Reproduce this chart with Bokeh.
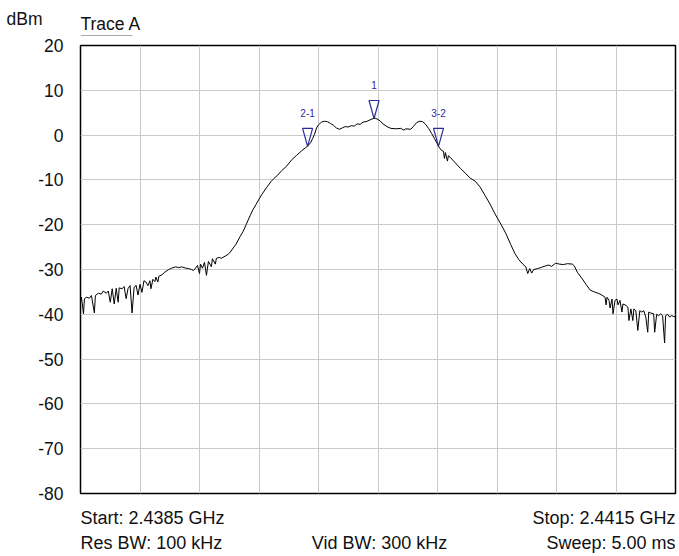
from bokeh.plotting import figure
from bokeh.layouts import column
from bokeh.models import Range1d, FixedTicker, Label
from bokeh.core.properties import value
from bokeh.embed import file_html
from bokeh.resources import INLINE

# ---------------- data ----------------
start_ghz = 2.4385
stop_ghz = 2.4415
n_sweep = 600          # sweep points across the span
x_divisions = 10

y_ticks = [20, 10, 0, -10, -20, -30, -40, -50, -60, -70, -80]
y_tick_labels = ["20", "10", "0", "-10", "-20", "-30", "-40", "-50", "-60", "-70", "-80"]

# Trace A: sweep point index and level (dBm)
sweep_pts = [
    0, 1, 3, 4, 6, 9, 11, 14, 15, 18, 21, 23, 26, 28, 30, 32, 34, 36, 38, 39,
    42, 44, 46, 48, 50, 52, 54, 56, 58, 60, 62, 64, 66, 68, 70, 71, 73, 75, 76, 78,
    79, 82, 85, 89, 92, 96, 99, 102, 106, 109, 112, 114, 116, 118, 120, 121, 123, 125, 127, 129,
    132, 133, 136, 137, 140, 142, 146, 149, 151, 154, 157, 161, 164, 167, 171, 174, 177, 180, 183, 188,
    192, 195, 199, 203, 208, 213, 218, 223, 227, 229, 232, 234, 236, 238, 240, 243, 246, 249, 252, 255,
    258, 261, 264, 267, 270, 273, 276, 279, 282, 285, 288, 291, 294, 297, 299, 302, 305, 309, 313, 318,
    323, 326, 328, 333, 336, 339, 342, 345, 348, 351, 354, 357, 360, 361, 364, 366, 367, 368, 370, 371,
    373, 378, 383, 388, 393, 398, 403, 408, 413, 418, 424, 429, 434, 438, 442, 446, 449, 451, 453, 455,
    457, 461, 465, 469, 472, 475, 479, 483, 487, 491, 496, 498, 501, 506, 510, 514, 518, 522, 525, 529,
    530, 531, 533, 534, 536, 537, 539, 541, 542, 544, 546, 547, 550, 552, 553, 555, 557, 558, 560, 562,
    564, 566, 568, 570, 572, 573, 575, 578, 579, 581, 583, 585, 587, 589, 590, 592, 594, 596, 598, 600,
]
level_dbm = [
    -37.3, -36.2, -39.9, -36.5, -36.2, -36.4, -35.8, -39.7, -35.8, -35.3, -35.5, -34.8, -35.3, -34.8, -37.3, -34.3, -37.7, -34.2, -37.3, -34.1,
    -34.3, -33.8, -36.5, -34.2, -33.6, -39.7, -34.1, -33.5, -35.7, -33.3, -35.1, -32.5, -32.8, -33.6, -32.5, -34.3, -32.2, -32.7, -31.7, -32.8,
    -31.5, -31.2, -30.6, -30.0, -29.7, -29.4, -29.6, -29.4, -29.7, -29.8, -30.0, -30.2, -29.7, -29.1, -30.9, -28.8, -29.7, -28.4, -31.3, -28.2,
    -29.4, -27.6, -28.8, -27.5, -27.3, -27.5, -27.0, -26.6, -26.1, -25.2, -24.3, -22.6, -21.5, -20.0, -18.0, -16.6, -15.5, -14.3, -13.2, -11.6,
    -10.4, -9.7, -8.9, -7.9, -6.9, -5.5, -4.5, -3.5, -2.8, -2.5, -1.7, -0.8, 0.2, 1.6, 2.3, 2.9, 3.1, 3.0, 2.6, 2.2,
    1.6, 1.3, 1.6, 1.9, 1.8, 2.1, 2.0, 2.5, 2.4, 2.9, 3.0, 3.3, 3.6, 3.8, 3.6, 3.2, 2.5, 1.9, 1.5, 1.4,
    1.5, 1.1, 1.4, 1.3, 2.0, 2.8, 3.1, 3.0, 2.4, 1.5, 0.4, -0.8, -2.0, -2.5, -3.4, -3.6, -5.2, -3.9, -5.8, -4.6,
    -5.0, -6.2, -7.4, -8.5, -9.6, -10.3, -11.6, -13.5, -15.4, -17.6, -19.9, -22.0, -24.5, -26.4, -27.8, -28.8, -29.4, -30.9, -29.8, -30.8,
    -30.0, -29.8, -29.5, -29.2, -29.0, -29.3, -28.6, -28.8, -28.9, -28.7, -28.8, -29.2, -30.6, -32.1, -33.4, -34.6, -35.0, -35.3, -35.6, -36.2,
    -37.9, -36.2, -36.9, -38.6, -36.6, -39.9, -36.9, -36.6, -37.9, -36.9, -39.5, -37.7, -38.0, -38.4, -41.4, -38.8, -41.4, -38.8, -39.2, -43.6,
    -39.2, -39.5, -39.2, -40.6, -44.0, -39.5, -39.7, -39.9, -44.0, -40.0, -40.3, -39.9, -40.3, -46.4, -40.3, -40.0, -40.6, -40.3, -40.5, -40.5,
]

marker_names = ["1", "2-1", "3-2"]
marker_pts = [296, 229, 361]
marker_dbm = [3.7, -2.5, -2.5]

unit_label = "dBm"
trace_label = "Trace A"
start_text = "Start: 2.4385 GHz"
stop_text = "Stop: 2.4415 GHz"
rbw_text = "Res BW: 100 kHz"
vbw_text = "Vid BW: 300 kHz"
sweep_text = "Sweep: 5.00 ms"

# ---------------- layout ----------------
LEFT, FW, RIGHT = 80, 595, 4
HEAD_H, TOP, FH, BOTTOM, FOOT_H = 36, 9, 448, 11, 52
span = stop_ghz - start_ghz
px_x = span / FW          # GHz per pixel
px_y = 100.0 / FH         # dB per pixel
FONT = "Liberation Sans"
TXT = "#111111"
MCOL = "#2b2b9c"

freq = [start_ghz + s * span / n_sweep for s in sweep_pts]


def strip(h):
    # frame spans the same columns as the main plot frame (x in page pixels)
    f = figure(frame_width=FW, frame_height=h, min_border_left=LEFT, min_border_right=RIGHT,
               min_border_top=0, min_border_bottom=0,
               x_range=Range1d(LEFT, LEFT + FW), y_range=Range1d(h, 0),
               x_axis_type=None, output_backend="svg", toolbar_location=None)
    f.outline_line_color = None
    f.background_fill_color = "white"
    f.border_fill_color = "white"
    f.ygrid.visible = False
    f.yaxis.ticker = FixedTicker(ticks=[])
    f.yaxis.major_tick_line_color = None
    f.yaxis.minor_tick_line_color = None
    f.yaxis.axis_line_color = None
    f.yaxis.major_label_text_font = FONT
    f.yaxis.major_label_text_font_size = "17.5px"
    f.yaxis.major_label_text_color = TXT
    return f


def lab(f, x, y, t, align="left", size="17.5px"):
    f.add_layout(Label(x=x, y=y, text=t, text_font=FONT, text_font_size=size,
                       text_color=TXT, text_align=align, text_baseline="middle"))


# header: unit (as the strip's only y tick label) and trace name
head = strip(HEAD_H)
head.yaxis.ticker = FixedTicker(ticks=[18])
head.yaxis.major_label_overrides = {18: unit_label}
head.yaxis.major_label_standoff = 32
lab(head, LEFT, 23, trace_label)
head.segment(x0=[LEFT], y0=[HEAD_H - 0.5], x1=[LEFT + 52], y1=[HEAD_H - 0.5],
             line_color="#555555", line_width=1.2)

# main plot
p = figure(frame_width=FW, frame_height=FH,
           min_border_left=LEFT, min_border_right=RIGHT, min_border_top=TOP, min_border_bottom=BOTTOM,
           x_range=Range1d(start_ghz, stop_ghz), y_range=Range1d(-80, 20),
           output_backend="svg", toolbar_location=None)
p.background_fill_color = "white"
p.border_fill_color = "white"
p.outline_line_color = "black"
p.outline_line_width = 1.5

p.xaxis.visible = False
p.xgrid.ticker = FixedTicker(ticks=[start_ghz + i * span / x_divisions for i in range(x_divisions + 1)])
p.xgrid.grid_line_color = "#cbcbcb"
p.xgrid.grid_line_width = 1

p.yaxis.ticker = FixedTicker(ticks=y_ticks)
p.yaxis.major_label_overrides = {t: l for t, l in zip(y_ticks, y_tick_labels)}
p.yaxis.major_tick_line_color = None
p.yaxis.minor_tick_line_color = None
p.yaxis.axis_line_color = None
p.yaxis.major_label_standoff = 11
p.yaxis.major_label_text_font = FONT
p.yaxis.major_label_text_font_size = "17.5px"
p.yaxis.major_label_text_color = TXT
p.ygrid.ticker = FixedTicker(ticks=y_ticks)
p.ygrid.grid_line_color = "#cbcbcb"
p.ygrid.grid_line_width = 1

# trace
p.line(freq, level_dbm, line_color="black", line_width=1)

# markers (inverted triangles with the tip on the trace)
mf = [start_ghz + s * span / n_sweep for s in marker_pts]
tri_w, tri_h = 5.0, 18.0
xs = [[f - tri_w * px_x, f + tri_w * px_x, f] for f in mf]
ys = [[d + tri_h * px_y, d + tri_h * px_y, d] for d in marker_dbm]
p.patches(xs, ys, fill_color=None, line_color=MCOL, line_width=1.2)
p.text(x=mf, y=[d + (tri_h + 15.5) * px_y for d in marker_dbm], text=marker_names,
       text_font=value(FONT), text_font_size="10px", text_color=MCOL,
       text_align="center", text_baseline="middle")

# footer: sweep settings
foot = strip(FOOT_H)
lab(foot, LEFT, 13, start_text, "left", "18px")
lab(foot, LEFT + FW, 13, stop_text, "right", "18px")
lab(foot, LEFT, 38, rbw_text, "left", "18px")
lab(foot, 379, 38, vbw_text, "center", "18px")
lab(foot, LEFT + FW, 38, sweep_text, "right", "18px")

layout = column(head, p, foot, spacing=0)
open("out.html", "w").write(file_html(layout, INLINE))
